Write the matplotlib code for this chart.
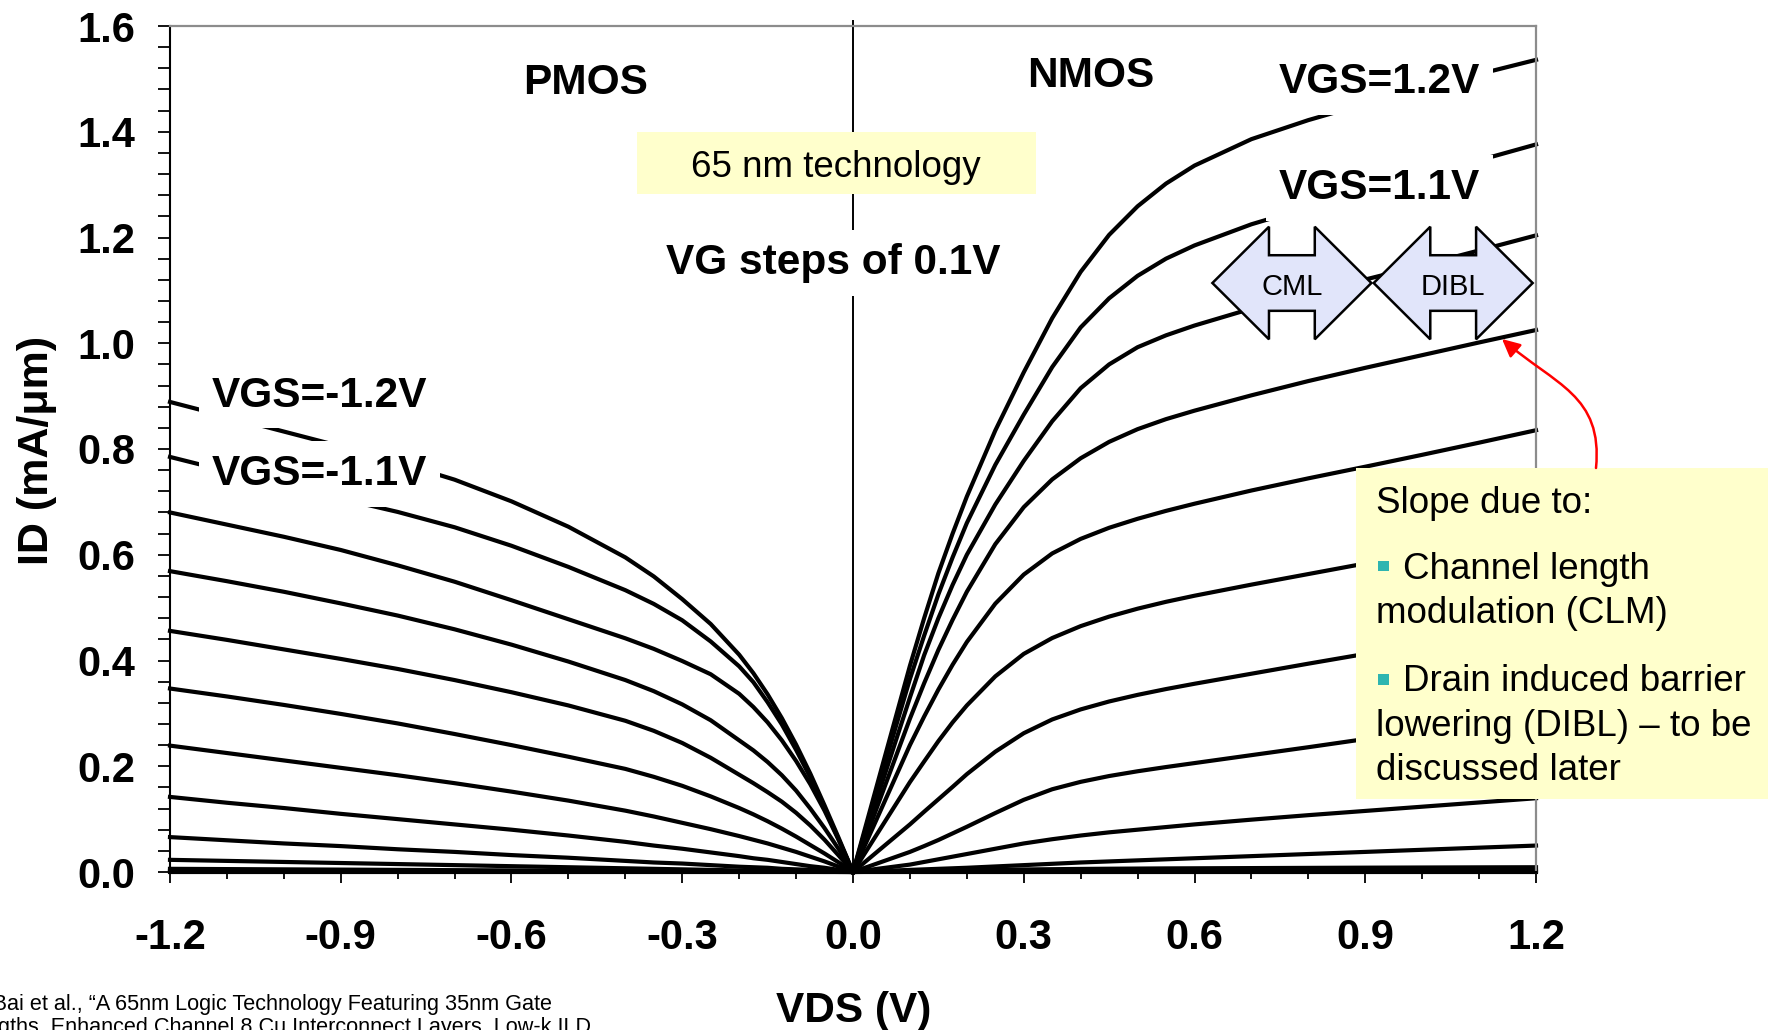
import matplotlib
matplotlib.use("Agg")
import matplotlib.pyplot as plt
from matplotlib.patches import Rectangle, Polygon, FancyArrowPatch
from matplotlib.path import Path
from matplotlib.ticker import MultipleLocator, FixedLocator

plt.rcParams['font.family'] = ['Liberation Sans', 'DejaVu Sans']

# ---------------- data ----------------
nmos_vgs = [1.2, 1.1, 1.0, 0.9, 0.8, 0.7, 0.6, 0.5, 0.4, 0.3, 0.2, 0.1, 0.0]
nmos_vds = [0.0, 0.025, 0.05, 0.075, 0.1, 0.125, 0.15, 0.175, 0.2, 0.25, 0.3, 0.35,
            0.4, 0.45, 0.5, 0.55, 0.6, 0.7, 0.8, 0.9, 1.0, 1.1, 1.2]
nmos_id = [
    [0, 0.0975, 0.195, 0.2925, 0.39, 0.48, 0.565, 0.64, 0.71, 0.835, 0.945, 1.0475,
     1.135, 1.205, 1.259, 1.302, 1.336, 1.386, 1.422, 1.453, 1.481, 1.509, 1.536],
    [0, 0.091, 0.1825, 0.274, 0.365, 0.447, 0.525, 0.595, 0.66, 0.77, 0.865, 0.955,
     1.03, 1.085, 1.1275, 1.16, 1.185, 1.225, 1.257, 1.287, 1.317, 1.346, 1.376],
    [0, 0.0825, 0.165, 0.2475, 0.33, 0.41, 0.48, 0.543, 0.60, 0.695, 0.7775, 0.8525,
     0.915, 0.96, 0.9925, 1.015, 1.0335, 1.0655, 1.0935, 1.1205, 1.1475, 1.1755, 1.204],
    [0, 0.0725, 0.145, 0.2175, 0.29, 0.357, 0.42, 0.477, 0.53, 0.62, 0.69, 0.7425,
     0.7825, 0.8135, 0.8375, 0.8565, 0.8725, 0.9015, 0.9285, 0.9535, 0.9775, 1.0015, 1.025],
    [0, 0.06, 0.12, 0.18, 0.24, 0.294, 0.345, 0.392, 0.435, 0.5075, 0.5625, 0.6025,
     0.63, 0.651, 0.668, 0.683, 0.6965, 0.7215, 0.7445, 0.7665, 0.789, 0.812, 0.8355],
    [0, 0.0425, 0.085, 0.1275, 0.17, 0.209, 0.2475, 0.283, 0.315, 0.37, 0.4125, 0.4425,
     0.465, 0.483, 0.498, 0.511, 0.5225, 0.5435, 0.5635, 0.5835, 0.6035, 0.6235, 0.6435],
    [0, 0.0225, 0.045, 0.0675, 0.09, 0.114, 0.1375, 0.161, 0.185, 0.2275, 0.2625, 0.2885,
     0.3075, 0.3225, 0.335, 0.346, 0.356, 0.375, 0.394, 0.4125, 0.4305, 0.4485, 0.4665],
    [0, 0.0095, 0.019, 0.0285, 0.038, 0.049, 0.0605, 0.073, 0.0855, 0.1115, 0.1365, 0.1565,
     0.1705, 0.1815, 0.1905, 0.1985, 0.206, 0.221, 0.236, 0.2515, 0.2675, 0.284, 0.301],
    [0, 0.0035, 0.007, 0.0105, 0.014, 0.019, 0.024, 0.029, 0.034, 0.044, 0.054, 0.062,
     0.069, 0.075, 0.08, 0.085, 0.09, 0.099, 0.1075, 0.1155, 0.1235, 0.1315, 0.1395],
    [0, 0.001, 0.002, 0.003, 0.004, 0.005, 0.006, 0.007, 0.008, 0.0105, 0.013, 0.0155,
     0.018, 0.020, 0.022, 0.024, 0.026, 0.030, 0.034, 0.038, 0.042, 0.046, 0.050],
    [0, 0.0005, 0.001, 0.0015, 0.002, 0.0025, 0.003, 0.0033, 0.0036, 0.0042, 0.0048, 0.0053,
     0.0058, 0.0062, 0.0065, 0.0068, 0.007, 0.0074, 0.0078, 0.0082, 0.0085, 0.0088, 0.009],
    [0, 0.0002, 0.0004, 0.0006, 0.0008, 0.001, 0.0011, 0.0012, 0.0013, 0.0014, 0.0015, 0.0016,
     0.0017, 0.0017, 0.0018, 0.0018, 0.0019, 0.0019, 0.002, 0.002, 0.002, 0.002, 0.002],
    [0, 0, 0, 0, 0, 0, 0, 0, 0, 0, 0, 0, 0, 0, 0, 0, 0, 0, 0, 0, 0, 0, 0],
]

pmos_vgs = [-1.2, -1.1, -1.0, -0.9, -0.8, -0.7, -0.6, -0.5, -0.4, -0.3, -0.2, -0.1, 0.0]
pmos_vds = [-1.2, -1.1, -1.0, -0.9, -0.8, -0.7, -0.6, -0.5, -0.4, -0.35, -0.3, -0.25,
            -0.2, -0.175, -0.15, -0.125, -0.1, -0.075, -0.05, -0.025, 0.0]
pmos_id = [
    [0.889, 0.861, 0.833, 0.805, 0.775, 0.742, 0.701, 0.653, 0.595, 0.559, 0.516, 0.469,
     0.411, 0.376, 0.336, 0.291, 0.241, 0.186, 0.126, 0.064, 0],
    [0.785, 0.758, 0.731, 0.706, 0.681, 0.652, 0.617, 0.577, 0.533, 0.507, 0.476, 0.436,
     0.389, 0.359, 0.321, 0.279, 0.231, 0.179, 0.121, 0.061, 0],
    [0.680, 0.657, 0.634, 0.609, 0.580, 0.549, 0.514, 0.478, 0.442, 0.422, 0.399, 0.374,
     0.337, 0.312, 0.283, 0.249, 0.210, 0.166, 0.116, 0.060, 0],
    [0.569, 0.550, 0.530, 0.508, 0.485, 0.459, 0.430, 0.398, 0.363, 0.342, 0.317, 0.287,
     0.249, 0.230, 0.208, 0.183, 0.154, 0.120, 0.083, 0.043, 0],
    [0.456, 0.439, 0.421, 0.403, 0.384, 0.363, 0.340, 0.315, 0.286, 0.267, 0.244, 0.216,
     0.184, 0.168, 0.151, 0.133, 0.112, 0.088, 0.061, 0.031, 0],
    [0.347, 0.332, 0.316, 0.299, 0.281, 0.261, 0.240, 0.218, 0.195, 0.180, 0.163, 0.143,
     0.121, 0.109, 0.096, 0.082, 0.067, 0.051, 0.035, 0.018, 0],
    [0.239, 0.225, 0.211, 0.197, 0.183, 0.168, 0.152, 0.135, 0.116, 0.105, 0.093, 0.081,
     0.068, 0.061, 0.054, 0.046, 0.038, 0.029, 0.020, 0.010, 0],
    [0.142, 0.131, 0.121, 0.110, 0.100, 0.090, 0.080, 0.069, 0.057, 0.050, 0.044, 0.037,
     0.030, 0.026, 0.023, 0.019, 0.015, 0.011, 0.008, 0.004, 0],
    [0.066, 0.060, 0.054, 0.049, 0.043, 0.038, 0.032, 0.027, 0.021, 0.018, 0.016, 0.013,
     0.010, 0.009, 0.008, 0.006, 0.005, 0.004, 0.003, 0.0015, 0],
    [0.023, 0.021, 0.019, 0.017, 0.015, 0.013, 0.011, 0.009, 0.007, 0.006, 0.005, 0.004,
     0.003, 0.0027, 0.0023, 0.002, 0.0015, 0.0011, 0.0008, 0.0004, 0],
    [0.006, 0.0055, 0.005, 0.0045, 0.004, 0.0035, 0.003, 0.0025, 0.002, 0.0018, 0.0015, 0.0012,
     0.001, 0.0009, 0.0008, 0.0006, 0.0005, 0.0004, 0.0003, 0.0001, 0],
    [0.002, 0.0019, 0.0018, 0.0017, 0.0016, 0.0014, 0.0012, 0.001, 0.0009, 0.0008, 0.0007, 0.0006,
     0.0005, 0.0004, 0.0004, 0.0003, 0.0003, 0.0002, 0.0001, 0.0001, 0],
    [0, 0, 0, 0, 0, 0, 0, 0, 0, 0, 0, 0, 0, 0, 0, 0, 0, 0, 0, 0, 0],
]

xtick_values = [-1.2, -0.9, -0.6, -0.3, 0.0, 0.3, 0.6, 0.9, 1.2]
xtick_labels = ['-1.2', '-0.9', '-0.6', '-0.3', '0.0', '0.3', '0.6', '0.9', '1.2']
ytick_values = [0.0, 0.2, 0.4, 0.6, 0.8, 1.0, 1.2, 1.4, 1.6]
ytick_labels = ['0.0', '0.2', '0.4', '0.6', '0.8', '1.0', '1.2', '1.4', '1.6']

# ---------------- figure ----------------
W, H = 1768, 1030
fig = plt.figure(figsize=(W / 100, H / 100), dpi=100)
ax = fig.add_axes([170 / W, 1 - 872 / H, (1536 - 170) / W, (872 - 26) / H])
ax.set_xlim(-1.2, 1.2)
ax.set_ylim(0, 1.6)


def fx(X):  # figure-pixel helpers for annotation layout
    return X / W


def fy(Y):
    return 1 - Y / H


for row in pmos_id:
    ax.plot(pmos_vds, row, color='black', lw=3.0, zorder=2, clip_on=False,
            solid_joinstyle='round')
for row in nmos_id:
    ax.plot(nmos_vds, row, color='black', lw=3.0, zorder=2, clip_on=False,
            solid_joinstyle='round')

ax.axvline(0, ymin=0, ymax=1.006, color='black', lw=1.4, zorder=1.5, clip_on=False)

# spines
for s in ['left', 'bottom']:
    ax.spines[s].set_color('black')
    ax.spines[s].set_linewidth(1.5)
for s in ['top', 'right']:
    ax.spines[s].set_color('#8c8c8c')
    ax.spines[s].set_linewidth(1.6)

# ticks
ax.xaxis.set_major_locator(FixedLocator(xtick_values))
ax.xaxis.set_minor_locator(MultipleLocator(0.1))
ax.yaxis.set_major_locator(FixedLocator(ytick_values))
ax.yaxis.set_minor_locator(MultipleLocator(0.04))
ax.set_xticklabels(xtick_labels, fontweight='bold')
ax.set_yticklabels(ytick_labels, fontweight='bold')
ax.tick_params(axis='y', which='both', direction='out', length=8.5, width=1.3,
               pad=16.5, labelsize=30)
ax.tick_params(axis='x', which='major', direction='out', length=8, width=1.3,
               pad=25, labelsize=30)
ax.tick_params(axis='x', which='minor', direction='out', length=5, width=1.3)

# axis titles
fig.text(fx(48), 0.5626, 'ID (mA/\u03bcm)', rotation=90, rotation_mode='anchor',
         ha='center', va='baseline', fontsize=31, fontweight='bold')
fig.text(fx(853.5), fy(1022), 'VDS (V)', ha='center', va='baseline',
         fontsize=30.5, fontweight='bold')

# region labels
ax.text(-0.469, 1.472, 'PMOS', ha='center', va='baseline', fontsize=30.5,
        fontweight='bold', zorder=4)
ax.text(0.4175, 1.485, 'NMOS', ha='center', va='baseline', fontsize=30.5,
        fontweight='bold', zorder=4)

# 65 nm box
ax.add_patch(Rectangle((-0.3793, 1.2817), 0.3219 + 0.3793, 1.4001 - 1.2817,
                       facecolor='#FFFFCC', edgecolor='none', zorder=3))
ax.text(-0.0297, 1.315, '65 nm technology', ha='center', va='baseline',
        fontsize=26.5, zorder=4)

white_box = dict(boxstyle='square,pad=0.3', facecolor='white', edgecolor='none')
ax.text(-0.035, 1.131, 'VG steps of 0.1V', ha='center', va='baseline',
        fontsize=30.5, fontweight='bold', bbox=white_box, zorder=4)

# VGS labels
for x, y, s in [(0.9253, 1.4727, 'VGS=1.2V'), (0.9253, 1.2728, 'VGS=1.1V'),
                (-0.938, 0.880, 'VGS=-1.2V'), (-0.938, 0.732, 'VGS=-1.1V')]:
    ax.text(x, y, s, ha='center', va='baseline', fontsize=30.5,
            fontweight='bold', bbox=white_box, zorder=4)

# double arrows CML / DIBL
px_x = 1366 / 2.4   # pixels per volt
px_y = 846 / 1.6    # pixels per mA/um


def darrow(cx, cy, L=79.5, h=56.6, Hh=56.3, b=27.8):
    pts = [(-L, 0), (-L + h, Hh), (-L + h, b), (L - h, b), (L - h, Hh), (L, 0),
           (L - h, -Hh), (L - h, -b), (-L + h, -b), (-L + h, -Hh)]
    return [(cx + dx / px_x, cy + dy / px_y) for dx, dy in pts]


for cx, label in [(0.7711, 'CML'), (1.0545, 'DIBL')]:
    ax.add_patch(Polygon(darrow(cx, 1.1139), closed=True, facecolor='#E1E5FA',
                         edgecolor='black', lw=1.8, zorder=5, clip_on=False))
    ax.text(cx, 1.0913, label, ha='center', va='baseline', fontsize=21, zorder=6)

# Slope box (extends beyond the axes to the figure edge)
fig.add_artist(Rectangle((fx(1356), fy(798.5)), (W - 1356) / W, (798.5 - 467.5) / H,
                         transform=fig.transFigure, facecolor='#FFFFCC',
                         edgecolor='none', zorder=3))
txt = dict(fontsize=26.5, ha='left', va='baseline', zorder=4)
fig.text(fx(1375.5), fy(513.4), 'Slope due to:', **txt)
fig.text(fx(1403.4), fy(579.3), 'Channel length', **txt)
fig.text(fx(1375.5), fy(623.3), 'modulation (CLM)', **txt)
fig.text(fx(1403.4), fy(691.4), 'Drain induced barrier', **txt)
fig.text(fx(1375.5), fy(736.2), 'lowering (DIBL) \u2013 to be', **txt)
fig.text(fx(1375.5), fy(780.2), 'discussed later', **txt)
for ytop in (560.9, 674.2):
    fig.add_artist(Rectangle((fx(1377.8), fy(ytop + 10.3)), 10.7 / W, 10.3 / H,
                             transform=fig.transFigure, facecolor='#2EB5B0',
                             edgecolor='none', zorder=4))

# red curved arrow
verts = [(fx(1596), fy(468)), (fx(1603), fy(395)), (fx(1555), fy(385)), (fx(1502), fy(339))]
codes = [Path.MOVETO, Path.CURVE4, Path.CURVE4, Path.CURVE4]
arrow = FancyArrowPatch(path=Path(verts, codes),
                        arrowstyle='-|>,head_length=0.45,head_width=0.22',
                        mutation_scale=24, color='#FF0000', lw=1.8,
                        transform=fig.transFigure, zorder=6, shrinkA=0, shrinkB=0)
fig.add_artist(arrow)

# citation (partly cut off by the figure edges as in the original slide)
fig.text(fx(552), fy(1010), 'P. Bai et al., \u201cA 65nm Logic Technology Featuring 35nm Gate',
         ha='right', va='baseline', fontsize=15.55)
fig.text(fx(591), fy(1033), 'Lengths, Enhanced Channel 8 Cu Interconnect Layers, Low-k ILD',
         ha='right', va='baseline', fontsize=15.55)

fig.savefig('out.png', dpi=100)
